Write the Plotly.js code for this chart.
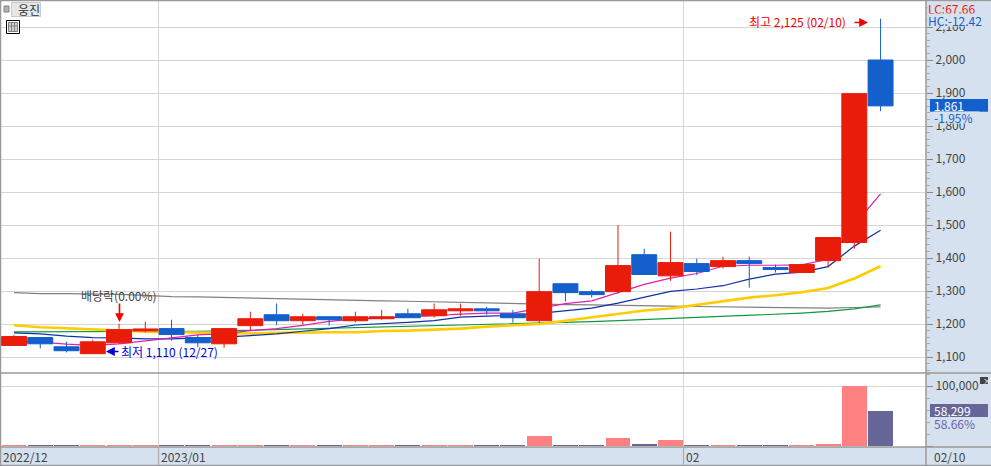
<!DOCTYPE html>
<html><head><meta charset="utf-8">
<script src="https://cdn.plot.ly/plotly-3.0.1.min.js"></script>
<style>html,body{margin:0;padding:0;background:#fff}#c{width:991px;height:466px}</style>
</head><body><div id="c"></div>
<script>
const dates=['12/22','12/23','12/26','12/27','12/28','12/29','01/02','01/03','01/04','01/05','01/06','01/09','01/10','01/11','01/12','01/13','01/16','01/17','01/18','01/19','01/20','01/25','01/26','01/27','01/30','01/31','02/01','02/02','02/03','02/06','02/07','02/08','02/09','02/10'];
const opens=[1135,1159,1131,1110,1143,1179,1186,1159,1140,1195,1228,1210,1222,1210,1216,1231,1225,1240,1246,1231,1210,1322,1298,1298,1410,1346,1383,1374,1392,1371,1356,1392,1447,2000];
const highs=[1167,1159,1146,1152,1201,1207,1213,1167,1186,1237,1262,1231,1222,1237,1243,1246,1262,1262,1252,1243,1398,1322,1304,1500,1428,1480,1398,1404,1404,1380,1383,1462,1898,2125];
const lows=[1135,1126,1114,1110,1140,1175,1150,1130,1128,1181,1196,1198,1195,1205,1213,1219,1219,1225,1228,1204,1203,1268,1280,1292,1350,1331,1349,1368,1310,1356,1356,1371,1428,1845];
const closes=[1162,1140,1119,1146,1183,1185,1168,1143,1186,1216,1210,1222,1213,1222,1222,1219,1243,1246,1240,1219,1298,1295,1289,1377,1350,1386,1359,1392,1383,1365,1380,1462,1898,1861];
const volumes=[1300,1300,1300,1300,1300,1300,1300,1300,1300,1300,1300,1300,1300,1300,1300,1300,1300,1300,1300,1300,16700,1300,1300,13000,3000,10000,1500,1500,1500,1500,1500,3000,99385,58299];
const ma5=[1146,1145,1139,1135,1140,1148,1158,1167,1171,1180,1186,1196,1208,1215,1218,1221,1225,1230,1233,1233,1248,1262,1270,1296,1320,1339,1353,1375,1378,1378,1379,1396,1500,1594];
const ma10=[1173,1170,1163,1159,1158,1155,1155,1157,1160,1165,1170,1178,1186,1197,1200,1205,1210,1221,1224,1226,1232,1241,1248,1263,1280,1299,1306,1316,1336,1351,1357,1374,1436,1484];
const ma20=[1196,1190,1187,1183,1180,1177,1175,1173,1171,1171,1173,1175,1175,1175,1179,1180,1182,1186,1192,1196,1200,1210,1220,1231,1241,1247,1258,1268,1280,1287,1296,1309,1338,1375];
const ma60=[1176,1176,1176,1176,1176,1177,1177,1178,1179,1181,1183,1184,1186,1188,1189,1191,1193,1195,1197,1199,1201,1204,1207,1210,1213,1217,1220,1224,1227,1230,1233,1238,1246,1258];
const ma120=[1295,1292,1292,1292,1290,1287,1283,1282,1280,1279,1278,1276,1274,1271,1270,1269,1267,1265,1263,1262,1261,1259,1258,1256,1255,1254,1253,1252,1250,1249,1248,1248,1250,1252];
const monthLabels=['2022/12','2023/01','02'];
const monthFirstDates=['12/22','01/02','02/01'];
const stockName='웅진';
const lastDate='02/10';

const W=991,H=466;
const px=x=>x/W, py=y=>1-y/H;
const idx=dates.map((d,i)=>i);
const RED='#E91C0A',BLUE='#135FCC',VUP='#FF8080',VDN='#666699',PANEL='#D6E1EF',FRAME='#999999',GRID='#D6D6D6';
const FONT='"Noto Sans CJK KR","Liberation Sans",sans-serif';
const xRange=[-0.495,34.73];
const pRange=[1051.5,2178.8];
const monthIdx=monthFirstDates.map(d=>dates.indexOf(d)-0.5);
const grids=monthIdx.slice(1);
const maLine=(y,color,width)=>({type:'scatter',mode:'lines',x:idx,y:y,xaxis:'x',yaxis:'y',line:{color:color,width:width},hoverinfo:'skip',showlegend:false});

const traces=[
 maLine(ma120,'#808080',1.2),
 maLine(ma60,'#109A40',1.2),
 maLine(ma20,'#FFCC00',2.6),
 maLine(ma10,'#1030A8',1.2),
 maLine(ma5,'#E020B0',1.2),
 {type:'candlestick',x:idx,open:opens,high:highs,low:lows,close:closes,xaxis:'x',yaxis:'y3',
  increasing:{line:{color:RED,width:1},fillcolor:RED},decreasing:{line:{color:BLUE,width:1},fillcolor:BLUE},
  whiskerwidth:0,hoverinfo:'skip',showlegend:false},
 {type:'bar',x:idx,y:volumes,xaxis:'x',yaxis:'y2',width:0.95,
  marker:{color:closes.map((c,i)=>c>=opens[i]?VUP:VDN),line:{width:0}},hoverinfo:'skip',showlegend:false}
];

const txt=(t,x,y,color,o={})=>Object.assign({text:t,xref:'paper',yref:'paper',x:px(x),y:py(y),xanchor:'left',yanchor:'middle',showarrow:false,font:{family:FONT,size:12,color:color},borderpad:0},o);
const arrow=(x,y,dx,dy,color)=>({text:'',xref:'paper',yref:'paper',x:px(x),y:py(y),ax:dx,ay:dy,axref:'pixel',ayref:'pixel',showarrow:true,arrowhead:2,arrowsize:1.1,arrowwidth:1.6,arrowcolor:color});
const hi=Math.max(...highs),lo=Math.min(...lows);
const fmt=n=>n.toLocaleString('en-US');
const last=closes[closes.length-1],prev=closes[closes.length-2];
const lastVol=volumes[volumes.length-1],prevVol=volumes[volumes.length-2];

const annotations=[
 txt(monthLabels[0],2,456,'#444'),
 txt(monthLabels[1],160,456,'#444'),
 txt(monthLabels[2],685,456,'#444'),
 txt(lastDate,933,456,'#444'),
 txt('LC:67.66',927,8,'#E91C0A',{bgcolor:PANEL,width:62,align:'left',height:12}),
 txt('HC:-12.42',927,20,BLUE,{bgcolor:PANEL,width:62,align:'left',height:12}),
 txt(fmt(last),933,105.5,'#fff'),
 txt(((last-prev)/prev*100).toFixed(2)+'%',933,117.5,BLUE,{bgcolor:PANEL,width:45,align:'left',height:11}),
 txt(fmt(lastVol),933,410.5,'#fff'),
 txt((lastVol/prevVol*100).toFixed(2)+'%',933,423,'#6666AA',{bgcolor:PANEL,width:45,align:'left',height:11}),
 txt('최고 '+fmt(hi)+' (02/10)',748,22,'#F00000'),
 arrow(868,22.5,-15,0,'#F00000'),
 txt('최저 '+fmt(lo)+' (12/27)',120,351,'#0000E0'),
 arrow(106,351.5,14,0,'#0000E0'),
 txt('배당락(0.00%)',80,295,'#444'),
 arrow(119.5,322,0,-20,'#F00000'),
 txt(stockName,17,9.5,'#333'),
 txt('×',981.5,380.5,'#fff',{font:{family:FONT,size:8,color:'#fff'}})
];

const rect=(x0,y0,x1,y1,fill,line,lw)=>({type:'rect',xref:'paper',yref:'paper',x0:px(x0),x1:px(x1),y0:py(y0),y1:py(y1),fillcolor:fill,line:{color:line||fill,width:lw||0},layer:'above'});
const seg=(x0,y0,x1,y1,c,w)=>({type:'line',xref:'paper',yref:'paper',x0:px(x0),x1:px(x1),y0:py(y0),y1:py(y1),line:{color:c||FRAME,width:w||1.5},layer:'above'});
const shapes=[
 seg(0.5,0,0.5,466),seg(0,0.5,991,0.5),seg(0,465.5,991,465.5),
 seg(926,0,926,466),seg(0,373,991,373),seg(0,447,991,447),
 seg(158.5,447,158.5,465,'#AAAAAA',1.2),seg(683.5,447,683.5,465,'#AAAAAA',1.2),
 rect(930,99,988,111.7,BLUE),
 rect(930,404,988,417,VDN),
 rect(980,377,988,384,'#444444'),
 rect(4,6,9,12,'#B0B0B0','#808080',1),
 rect(11.5,2.5,40.5,16.5,'#E6E6E6','#C8C8C8',1),
 rect(6.5,20.5,19.5,33.5,'#FFFFFF','#000000',1),
 rect(8.5,22.5,17.5,31.5,'#D0D0D0','#808080',1),
 seg(11.5,22.5,11.5,31.5,'#808080',1),seg(14.5,22.5,14.5,31.5,'#808080',1),seg(8.5,26,17.5,26,'#808080',1)
];

const tickFont={family:FONT,size:12,color:'#444'};
const layout={
 width:W,height:H,margin:{l:0,r:0,t:0,b:0,pad:0},paper_bgcolor:PANEL,plot_bgcolor:'#FFFFFF',showlegend:false,
 boxgap:0.05,boxgroupgap:0,bargap:0,dragmode:false,
 xaxis:{domain:[px(1),px(926)],range:xRange,anchor:'y2',type:'linear',tickmode:'array',tickvals:grids,ticktext:grids.map(()=>''),showticklabels:false,ticks:'',showgrid:true,gridcolor:GRID,gridwidth:1,zeroline:false,rangeslider:{visible:false},showline:false},
 yaxis:{domain:[py(373),py(1)],range:pRange,side:'right',anchor:'x',dtick:100,tick0:1100,tickformat:',d',ticks:'outside',ticklen:6,tickcolor:'#888',tickwidth:1,tickfont:tickFont,gridcolor:GRID,gridwidth:1,zeroline:false,showline:false,
  minor:{tickmode:'linear',tick0:1100,dtick:20,ticks:'outside',ticklen:3,tickcolor:'#AAA',tickwidth:1,showgrid:false}},
 yaxis3:{overlaying:'y',range:pRange,side:'right',anchor:'x',visible:false,showgrid:false,zeroline:false},
 yaxis2:{domain:[py(447),py(373)],range:[-1667,121667],side:'right',anchor:'x',tickmode:'array',tickvals:[0,100000],ticktext:['','100,000'],ticks:'outside',ticklen:6,tickcolor:'#888',tickwidth:1,tickfont:tickFont,gridcolor:GRID,gridwidth:1,zeroline:false,showline:false,
  minor:{tickmode:'linear',tick0:0,dtick:20000,ticks:'outside',ticklen:3,tickcolor:'#AAA',tickwidth:1,showgrid:false}},
 annotations:annotations,shapes:shapes
};
Plotly.newPlot('c',traces,layout,{displayModeBar:false,staticPlot:true,responsive:false});
</script></body></html>
